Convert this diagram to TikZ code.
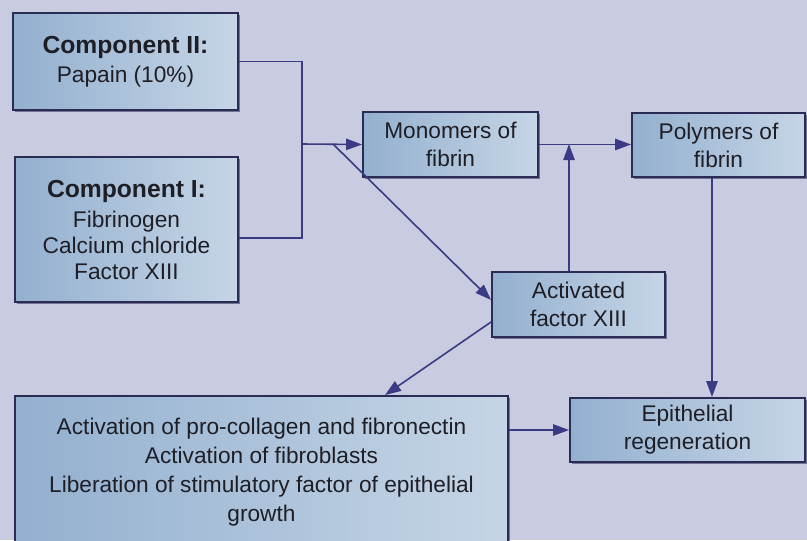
\documentclass[tikz,border=0pt]{standalone}
\usepackage{fontspec}
\setmainfont{Liberation Sans}
\usetikzlibrary{arrows.meta,calc,shadows}
\definecolor{bg}{HTML}{C9CCE0}
\definecolor{boxL}{HTML}{93B0CF}
\definecolor{boxR}{HTML}{C6D5E6}
\definecolor{edge}{HTML}{2A2C55}
\definecolor{conn}{HTML}{3A3A85}
\definecolor{txt}{HTML}{1E1E26}
\tikzset{
  box/.style={draw=edge, line width=1.4pt, left color=boxL, right color=boxR,
    text=txt, align=center, inner sep=0pt,
    font=\fontsize{17}{21}\selectfont,
    drop shadow={shadow xshift=1.2pt, shadow yshift=-1.2pt, fill=edge, opacity=0.55}},
  conn/.style={draw=conn, line width=1.2pt},
  arr/.style={conn, -{Triangle[length=12pt,width=8.5pt]}, draw=conn, fill=conn}
}
\newcommand{\hdfont}{\fontsize{18.5}{22}\selectfont\bfseries}
\begin{document}
\begin{tikzpicture}[x=0.75pt,y=-0.75pt]
\useasboundingbox (0,0) rectangle (807,540);
\fill[bg] (0,0) rectangle (807,540);

\node[box, minimum width=168.75pt, minimum height=72.75pt] (comp2) at (125.5,61.5)
  {{\hdfont Component II:}\\[1pt] Papain (10\%)};
\node[box, minimum width=167.25pt, minimum height=108.75pt, font=\fontsize{17}{19.5}\selectfont] (comp1) at (126.5,229.5)
  {{\hdfont Component I:}\\[3pt] Fibrinogen\\ Calcium chloride\\ Factor XIII};
\node[box, minimum width=131.25pt, minimum height=48.75pt] (mono) at (450.5,144.5)
  {Monomers of\\ fibrin};
\node[box, minimum width=129.75pt, minimum height=48pt] (poly) at (718.5,145)
  {Polymers of\\ fibrin};
\node[box, minimum width=129.75pt, minimum height=48.75pt] (act) at (578.5,304.5)
  {Activated\\ factor XIII};
\node[box, minimum width=369.75pt, minimum height=114pt, font=\fontsize{17}{21.75}\selectfont] (big) at (261.5,472)
  {Activation of pro-collagen and fibronectin\\ Activation of fibroblasts\\ Liberation of stimulatory factor of epithelial\\ growth};
\node[box, minimum width=176.25pt, minimum height=48pt] (epi) at (687.5,430)
  {Epithelial\\ regeneration};

\coordinate (j) at (302,144);
\coordinate (d) at (333,144);
\coordinate (m) at (569,144);
\coordinate (k) at (712,0);
\coordinate (b) at (385,0);

\draw[conn] (comp2.east) -| (j);
\draw[conn] ([yshift=-6.4pt]comp1.east) -| (j);
\draw[arr] (j) -- (mono.west);
\draw[arr] (d) -- ([yshift=3.4pt]act.west);
\draw[arr] (mono.east) -- (mono.east -| poly.west);
\draw[arr] (act.north -| m) -- (m);
\draw[arr] ([yshift=-13.1pt]act.west) -- (big.north -| b);
\draw[arr] (poly.south -| k) -- (epi.north -| k);
\draw[arr] (big.east |- epi.west) -- (epi.west);
\end{tikzpicture}
\end{document}
